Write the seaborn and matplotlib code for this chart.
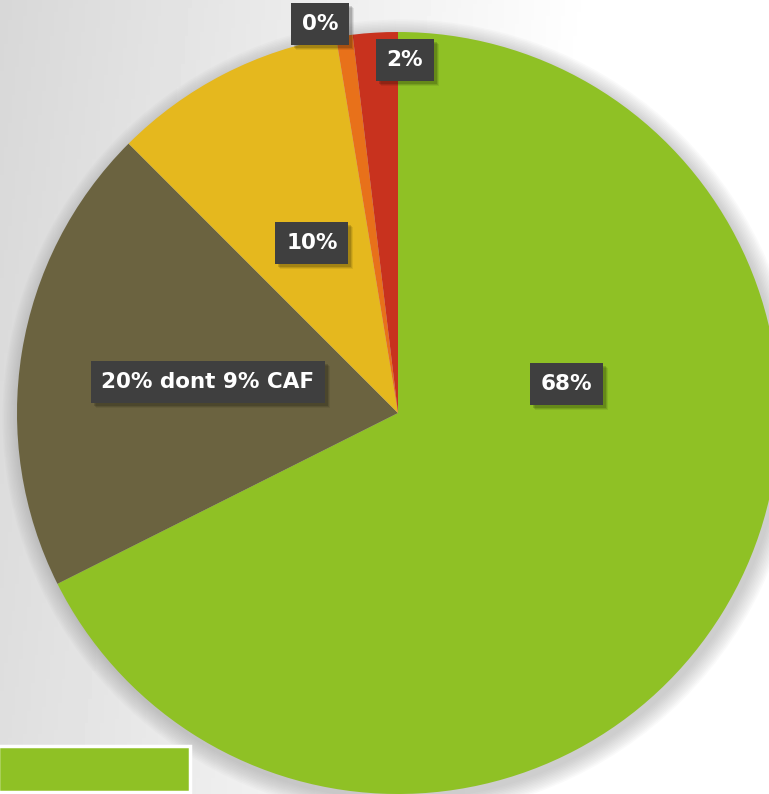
import numpy as np
import seaborn as sns
import matplotlib.pyplot as plt
from matplotlib.patches import Rectangle, Circle

sns.set_theme(style="white")
plt.rcParams['font.family'] = ['DejaVu Sans']

# slice values (percent), clockwise from 12 o'clock
shares = [67.6, 19.9, 9.9, 0.7, 1.9]
labels = ["68%", "20% dont 9% CAF", "10%", "0%", "2%"]
colors = ["#8fc125", "#6b6340", "#e5b81e", "#e8711a", "#c8321e"]

# label spots, as fractions of the radius from the centre
label_pos = [(0.441, 0.076), (-0.499, 0.081), (-0.226, 0.446),
             (-0.205, 1.021), (0.018, 0.927)]

W, H = 769, 794
cx, cy, R = 398, H - 413, 381

fig = plt.figure(figsize=(W / 100, H / 100), dpi=100)
ax = fig.add_axes([0, 0, 1, 1])

# grey to white background
xx = np.linspace(0, 1, 200)
yy = np.linspace(0, 1, 200)
gx, gy = np.meshgrid(xx, yy)
g = np.clip(0.845 + 0.2 * gx + 0.03 * (1 - gy), 0, 1)
ax.imshow(g, cmap="gray", vmin=0, vmax=1, extent=[0, W, 0, H],
          aspect="auto", zorder=0, origin="lower")

# soft shadow behind the pie
for i in range(12):
    ax.add_patch(Circle((cx + 3, cy - 5), R + 1 + i * 1.5, color="#8a8a8a",
                        alpha=0.04, lw=0, zorder=1))

wedges, _ = ax.pie(shares, colors=colors, startangle=90, counterclock=False,
                   center=(cx, cy), radius=R, frame=True,
                   wedgeprops=dict(linewidth=0, zorder=2))
ax.set_xlim(0, W)
ax.set_ylim(0, H)
ax.set_aspect("auto")
ax.axis("off")

texts = []
for lab, (fx, fy) in zip(labels, label_pos):
    t = ax.text(cx + fx * R, cy + fy * R, lab, ha="center", va="center",
                color="white", fontsize=15.5, fontweight="bold", zorder=5,
                bbox=dict(boxstyle="square,pad=0.5", linewidth=0,
                          facecolor="#3f3f3f"))
    texts.append(t)

# drop shadows under the label boxes
fig.canvas.draw()
inv = ax.transData.inverted()
for t in texts:
    bb = t.get_bbox_patch().get_window_extent().transformed(inv)
    for k, a in [(5, 0.07), (4, 0.1), (3, 0.14)]:
        ax.add_patch(Rectangle((bb.x0 + k, bb.y0 - k), bb.width, bb.height,
                               facecolor="black", alpha=a, lw=0, zorder=4))

# legend swatch cut off at bottom-left
ax.add_patch(Rectangle((-2, 2), 192, 46, facecolor=colors[0],
                       edgecolor="white", linewidth=2.5, zorder=6))

fig.savefig("out.png", dpi=100)
